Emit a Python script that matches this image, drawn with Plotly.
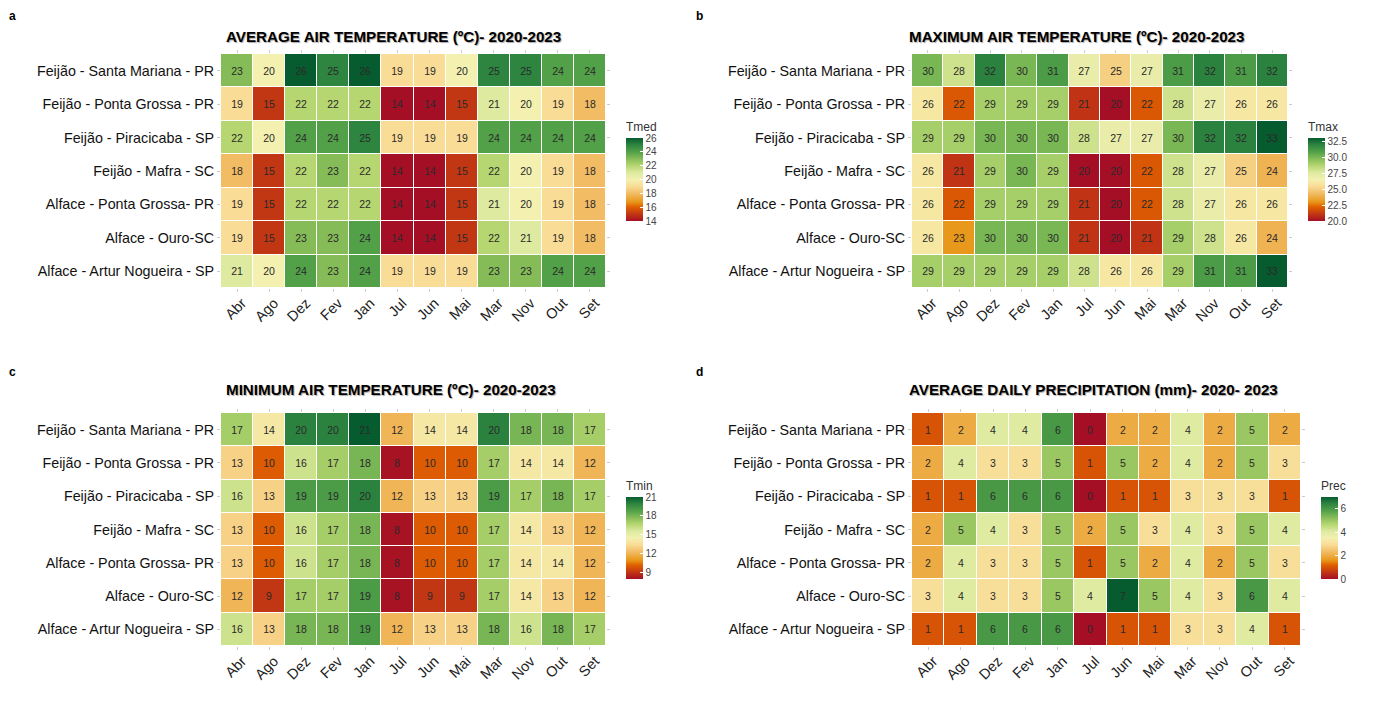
import plotly.graph_objects as go

# Data
months = ['Abr', 'Ago', 'Dez', 'Fev', 'Jan', 'Jul', 'Jun', 'Mai', 'Mar', 'Nov', 'Out', 'Set']
sites = [
    'Feijão - Santa Mariana - PR',
    'Feijão - Ponta Grossa - PR',
    'Feijão - Piracicaba - SP',
    'Feijão - Mafra - SC',
    'Alface - Ponta Grossa- PR',
    'Alface - Ouro-SC',
    'Alface - Artur Nogueira - SP',
]

tmed = [
    [23, 20, 26, 25, 26, 19, 19, 20, 25, 25, 24, 24],
    [19, 15, 22, 22, 22, 14, 14, 15, 21, 20, 19, 18],
    [22, 20, 24, 24, 25, 19, 19, 19, 24, 24, 24, 24],
    [18, 15, 22, 23, 22, 14, 14, 15, 22, 20, 19, 18],
    [19, 15, 22, 22, 22, 14, 14, 15, 21, 20, 19, 18],
    [19, 15, 23, 23, 24, 14, 14, 15, 22, 21, 19, 18],
    [21, 20, 24, 23, 24, 19, 19, 19, 23, 23, 24, 24],
]
tmax = [
    [30, 28, 32, 30, 31, 27, 25, 27, 31, 32, 31, 32],
    [26, 22, 29, 29, 29, 21, 20, 22, 28, 27, 26, 26],
    [29, 29, 30, 30, 30, 28, 27, 27, 30, 32, 32, 33],
    [26, 21, 29, 30, 29, 20, 20, 22, 28, 27, 25, 24],
    [26, 22, 29, 29, 29, 21, 20, 22, 28, 27, 26, 26],
    [26, 23, 30, 30, 30, 21, 20, 21, 29, 28, 26, 24],
    [29, 29, 29, 29, 29, 28, 26, 26, 29, 31, 31, 33],
]
tmin = [
    [17, 14, 20, 20, 21, 12, 14, 14, 20, 18, 18, 17],
    [13, 10, 16, 17, 18, 8, 10, 10, 17, 14, 14, 12],
    [16, 13, 19, 19, 20, 12, 13, 13, 19, 17, 18, 17],
    [13, 10, 16, 17, 18, 8, 10, 10, 17, 14, 13, 12],
    [13, 10, 16, 17, 18, 8, 10, 10, 17, 14, 14, 12],
    [12, 9, 17, 17, 19, 8, 9, 9, 17, 14, 13, 12],
    [16, 13, 18, 18, 19, 12, 13, 13, 18, 16, 18, 17],
]
prec = [
    [1, 2, 4, 4, 6, 0, 2, 2, 4, 2, 5, 2],
    [2, 4, 3, 3, 5, 1, 5, 2, 4, 2, 5, 3],
    [1, 1, 6, 6, 6, 0, 1, 1, 3, 3, 3, 1],
    [2, 5, 4, 3, 5, 2, 5, 3, 4, 3, 5, 4],
    [2, 4, 3, 3, 5, 1, 5, 2, 4, 2, 5, 3],
    [3, 4, 3, 3, 5, 4, 7, 5, 4, 3, 6, 4],
    [1, 1, 6, 6, 6, 0, 1, 1, 3, 3, 4, 1],
]

colors = [
    [0.0, '#A50F26'], [0.17, '#E06000'], [0.23, '#E8981A'], [0.333, '#F2BC65'], [0.417, '#F9DC95'],
    [0.5, '#F3F0B0'], [0.583, '#DDEAA0'], [0.667, '#B5D670'], [0.75, '#85BC58'], [0.833, '#52A048'],
    [0.917, '#2E8540'], [1.0, '#065C2E'],
]

W, H = 1363, 701   # page body keeps its 8px margin
OFF = 8


def px(x):
    return (x - OFF) / W


def py(y):
    return 1 - (y - OFF) / H


panels = [
    dict(z=tmed, name='Tmed', title='AVERAGE AIR TEMPERATURE (ºC)- 2020-2023', letter='a',
         box=(221, 606, 54, 288), bar=(626, 137, 221), zr=(14, 26), ticks=[14, 16, 18, 20, 22, 24, 26],
         title_x=224, title_y=36, letter_xy=(8, 8), fmt=None),
    dict(z=tmax, name='Tmax', title='MAXIMUM AIR TEMPERATURE (ºC)- 2020-2023', letter='b',
         box=(912, 1288, 54, 288), bar=(1308, 137, 221), zr=(20, 33), ticks=[20, 22.5, 25, 27.5, 30, 32.5],
         title_x=907, title_y=36, letter_xy=(695, 8), fmt='.1f'),
    dict(z=tmin, name='Tmin', title='MINIMUM AIR TEMPERATURE (ºC)- 2020-2023', letter='c',
         box=(221, 606, 413, 646), bar=(626, 496, 579), zr=(7.9, 21), ticks=[9, 12, 15, 18, 21],
         title_x=224, title_y=390, letter_xy=(8, 364), fmt=None),
    dict(z=prec, name='Prec', title='AVERAGE DAILY PRECIPITATION (mm)- 2020- 2023', letter='d',
         box=(912, 1301, 413, 646), bar=(1321, 496, 579), zr=(0, 7), ticks=[0, 2, 4, 6],
         title_x=907, title_y=390, letter_xy=(695, 364), fmt=None),
]

fig = go.Figure()
notes = []
layout_axes = {}

for i, p in enumerate(panels, start=1):
    x0, x1, y0, y1 = p['box']
    bx, by0, by1 = p['bar']
    suffix = '' if i == 1 else str(i)
    fig.add_trace(go.Heatmap(
        z=p['z'], x=months, y=sites, xaxis='x' + suffix, yaxis='y' + suffix,
        text=p['z'], texttemplate='%{text}', textfont=dict(size=10.5, color='#2a2a2a'),
        colorscale=colors, zmin=p['zr'][0], zmax=p['zr'][1],
        xgap=1, ygap=1,
        colorbar=dict(
            x=px(bx), xanchor='left', y=py(by1), yanchor='bottom',
            thickness=17, thicknessmode='pixels', len=by1 - by0 + 18, lenmode='pixels',
            outlinewidth=0, xpad=0, ypad=0,
            title=dict(text=p['name'], side='top', font=dict(size=12, color='#333333')),
            tickmode='array', tickvals=p['ticks'], tickformat=p['fmt'],
            ticks='inside', ticklen=3, tickcolor='white',
            tickfont=dict(size=10, color='#444444'),
        ),
    ))
    layout_axes['xaxis' + suffix] = dict(
        domain=[px(x0), px(x1)], anchor='y' + suffix, type='category',
        categoryorder='array', categoryarray=months,
        tickangle=-45, tickfont=dict(size=14.5, color='#222222'),
        ticks='outside', ticklen=3, tickcolor='#cccccc', mirror='ticks',
        ticklabelshift=5, ticklabelstandoff=-3, showgrid=False, zeroline=False, showline=False,
    )
    layout_axes['yaxis' + suffix] = dict(
        domain=[py(y1), py(y0)], anchor='x' + suffix, type='category',
        categoryorder='array', categoryarray=sites[::-1],
        tickfont=dict(size=14.3, color='#111111'),
        ticks='outside', ticklen=3, tickcolor='#cccccc', mirror='ticks',
        showgrid=False, zeroline=False, showline=False,
    )
    notes.append(dict(
        text='<b>' + p['title'] + '</b>', xref='paper', yref='paper',
        x=px(p['title_x']), y=py(p['title_y']), xanchor='left', yanchor='middle',
        showarrow=False, font=dict(size=15.2, color='black', shadow='1px 1px 1px #aaaaaa'),
    ))
    notes.append(dict(
        text='<b>' + p['letter'] + '</b>', xref='paper', yref='paper',
        x=px(p['letter_xy'][0]), y=py(p['letter_xy'][1]), xanchor='left', yanchor='top',
        borderpad=0, showarrow=False, font=dict(size=12, color='black'),
    ))

fig.update_layout(
    width=W, height=H,
    margin=dict(l=0, r=0, t=0, b=0),
    paper_bgcolor='white', plot_bgcolor='white',
    font=dict(family='Liberation Sans, Arial, sans-serif'),
    annotations=notes,
    **layout_axes,
)

fig.write_html("out.html")
